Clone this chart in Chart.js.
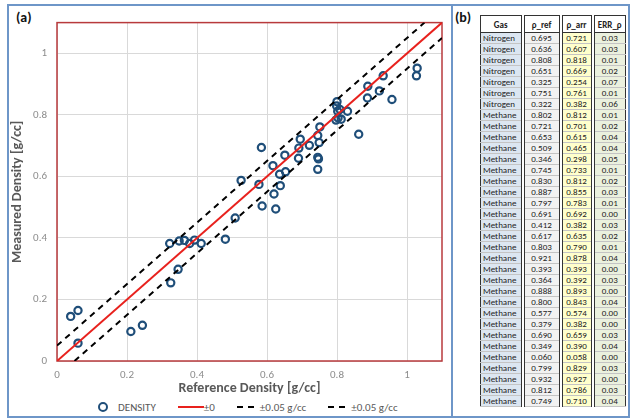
<!DOCTYPE html>
<html>
<head>
<meta charset="utf-8">
<script src="https://cdn.jsdelivr.net/npm/chart.js@4.4.1/dist/chart.umd.min.js"></script>
<style>
  body { margin: 0; width: 630px; height: 418px; background: #fff; overflow: hidden; position: relative;
         font-family: Carlito, Calibri, Lato, sans-serif; }
  .frame { position: absolute; box-sizing: border-box; border: 2px solid #6e96c8; }
  .tag { position: absolute; font-weight: bold; font-size: 14px; color: #111; }
  #chartBox { position: absolute; left: 9px; top: 6px; width: 441px; height: 391px; }
  #legend { position: absolute; left: 98px; top: 400px; height: 14px; display: flex; align-items: center;
            font-size: 11px; color: #595959; }
  #legend .item { display: flex; align-items: center; margin-right: 22px; }
  .ring { width: 6px; height: 6px; border: 2px solid #1f4e79; border-radius: 50%; margin-right: 10px; }
  .solid { width: 26px; border-top: 2px solid #e8211d; }
  .dash { width: 17px; height: 2px; margin-right: 6px;
          background: linear-gradient(to right, #000 0 6px, transparent 6px 11px, #000 11px 17px); }
  #tbl { position: absolute; left: 480px; top: 15px; width: 145px; border-collapse: collapse;
         table-layout: fixed; font-size: 9px; color: #222; border: 1px solid #333; }
  #tbl th { height: 16px; font-weight: bold; background: #fff; border-bottom: 1px solid #333; padding: 0; }
  #tbl td { height: 10px; line-height: 10px; padding: 0; text-align: center; border-bottom: 1px solid #c4c4c4;
            overflow: hidden; white-space: nowrap; }
  #tbl th, #tbl td { border-right: 4px double #333; }
  #tbl th:last-child, #tbl td:last-child { border-right: none; }
  #tbl td.g { text-align: left; padding-left: 2px; background: #dce6f1; }
  #tbl td.r { background: #f2f2f2; }
  #tbl td.a { background: #ffffcc; }
  #tbl td.e { background: #ebf1de; }
</style>
</head>
<body>
<div class="frame" style="left:7px; top:4px; width:446px; height:414px;"></div>
<div class="frame" style="left:451px; top:4px; width:179px; height:414px;"></div>
<div class="tag" style="left:16px; top:9px;">(a)</div>
<div class="tag" style="left:455px; top:9px;">(b)</div>

<div id="chartBox"><canvas id="densityChart"></canvas></div>

<div id="legend">
  <div class="item"><span class="ring"></span>DENSITY</div>
  <div class="item"><span class="solid"></span>±0</div>
  <div class="item"><span class="dash"></span>±0.05 g/cc</div>
  <div class="item"><span class="dash"></span>±0.05 g/cc</div>
</div>

<table id="tbl">
  <colgroup><col style="width:42px"><col style="width:38px"><col style="width:32px"><col style="width:33px"></colgroup>
  <thead><tr><th>Gas</th><th>ρ_ref</th><th>ρ_arr</th><th>ERR_ρ</th></tr></thead>
  <tbody id="tbody"></tbody>
</table>

<script>
// Table values (panel b)
const gases = ['Nitrogen', 'Nitrogen', 'Nitrogen', 'Nitrogen', 'Nitrogen', 'Nitrogen', 'Nitrogen',
    'Methane', 'Methane', 'Methane', 'Methane', 'Methane', 'Methane', 'Methane', 'Methane', 'Methane',
    'Methane', 'Methane', 'Methane', 'Methane', 'Methane', 'Methane', 'Methane', 'Methane', 'Methane',
    'Methane', 'Methane', 'Methane', 'Methane', 'Methane', 'Methane', 'Methane', 'Methane', 'Methane'];
const rhoRef = [0.695, 0.636, 0.808, 0.651, 0.325, 0.751, 0.322,
    0.802, 0.721, 0.653, 0.509, 0.346, 0.745, 0.830, 0.887, 0.797, 0.691, 0.412, 0.617, 0.803,
    0.921, 0.393, 0.364, 0.888, 0.800, 0.577, 0.379, 0.690, 0.349, 0.060, 0.799, 0.932, 0.812, 0.749];
const rhoArr = [0.721, 0.607, 0.818, 0.669, 0.254, 0.761, 0.382,
    0.812, 0.701, 0.615, 0.465, 0.298, 0.733, 0.812, 0.855, 0.783, 0.692, 0.382, 0.635, 0.790,
    0.878, 0.393, 0.392, 0.893, 0.843, 0.574, 0.382, 0.659, 0.390, 0.058, 0.829, 0.927, 0.786, 0.710];
const errRho = [0.03, 0.03, 0.01, 0.02, 0.07, 0.01, 0.06,
    0.01, 0.02, 0.04, 0.04, 0.05, 0.01, 0.02, 0.03, 0.01, 0.00, 0.03, 0.02, 0.01,
    0.04, 0.00, 0.03, 0.00, 0.04, 0.00, 0.00, 0.03, 0.04, 0.00, 0.03, 0.00, 0.03, 0.04];

// Other points in the scatter that are not listed in the table
const extraRef = [0.039, 0.060, 0.211, 0.244, 0.481, 0.526, 0.584, 0.586, 0.620,
    0.625, 0.638, 0.745, 0.747, 0.745, 0.862, 0.957, 1.029, 1.027];
const extraArr = [0.145, 0.164, 0.096, 0.116, 0.396, 0.587, 0.694, 0.504, 0.543,
    0.494, 0.570, 0.662, 0.657, 0.623, 0.737, 0.850, 0.952, 0.927];

// Reference lines
const zeroX = [0, 1.1], zeroY = [0, 1.1];
const upperX = [0, 1.05], upperY = [0.05, 1.1];
const lowerX = [0.05, 1.1], lowerY = [0, 1.05];

const toPoints = (xs, ys) => xs.map((x, i) => ({ x: x, y: ys[i] }));

// fill the table
const tbody = document.getElementById('tbody');
gases.forEach((g, i) => {
    const tr = document.createElement('tr');
    tr.innerHTML = '<td class="g">' + g + '</td><td class="r">' + rhoRef[i].toFixed(3) +
        '</td><td class="a">' + rhoArr[i].toFixed(3) + '</td><td class="e">' + errRho[i].toFixed(2) + '</td>';
    tbody.appendChild(tr);
});

// red frame round the plot area
const plotFrame = {
    id: 'plotFrame',
    beforeDatasetsDraw(chart) {
        const a = chart.chartArea, ctx = chart.ctx;
        ctx.save();
        ctx.strokeStyle = '#b83a3c';
        ctx.lineWidth = 1.5;
        ctx.strokeRect(a.left, a.top, a.right - a.left, a.bottom - a.top);
        ctx.restore();
    }
};

const fontFamily = 'Carlito, Calibri, Lato, sans-serif';
const tickLabel = v => String(+v.toFixed(1));

const config = {
    type: 'scatter',
    data: {
        datasets: [
            {
                label: 'DENSITY',
                data: toPoints(rhoRef.concat(extraRef), rhoArr.concat(extraArr)),
                pointStyle: 'circle',
                pointRadius: 3.6,
                pointBorderWidth: 2.2,
                borderColor: '#1f4e79',
                backgroundColor: 'rgba(255,255,255,0)',
                order: 5
            },
            {
                label: '±0',
                data: toPoints(zeroX, zeroY),
                showLine: true,
                borderColor: '#e8211d',
                borderWidth: 2,
                pointRadius: 0,
                order: 1
            },
            {
                label: '±0.05 g/cc',
                data: toPoints(upperX, upperY),
                showLine: true,
                borderColor: '#000',
                borderWidth: 2,
                borderDash: [6, 5],
                pointRadius: 0,
                order: 2
            },
            {
                label: '±0.05 g/cc',
                data: toPoints(lowerX, lowerY),
                showLine: true,
                borderColor: '#000',
                borderWidth: 2,
                borderDash: [6, 5],
                pointRadius: 0,
                order: 3
            }
        ]
    },
    options: {
        responsive: true,
        maintainAspectRatio: false,
        animation: false,
        layout: { padding: { top: 9, right: 8, left: 0, bottom: 0 } },
        plugins: {
            legend: { display: false },
            tooltip: { enabled: false }
        },
        scales: {
            x: {
                type: 'linear',
                min: 0,
                max: 1.1,
                afterFit: s => { s.height = 36; },
                grid: { color: '#d9d9d9', drawTicks: false },
                border: { display: false },
                ticks: { stepSize: 0.2, includeBounds: false, padding: 8, color: '#8c8c8c',
                         font: { family: fontFamily, size: 11 }, callback: tickLabel },
                title: { display: true, text: 'Reference Density [g/cc]', color: '#595959',
                         padding: 0, font: { family: fontFamily, size: 14, weight: 'bold' } }
            },
            y: {
                type: 'linear',
                min: 0,
                max: 1.1,
                afterFit: s => { s.width = 48; },
                grid: { color: '#d9d9d9', drawTicks: false },
                border: { display: false },
                ticks: { stepSize: 0.2, includeBounds: false, padding: 10, color: '#8c8c8c',
                         font: { family: fontFamily, size: 11 }, callback: tickLabel },
                title: { display: true, text: 'Measured Density [g/cc]', color: '#595959',
                         padding: 0, font: { family: fontFamily, size: 14, weight: 'bold' } }
            }
        }
    },
    plugins: [plotFrame]
};

window.onload = function() {
    const ctx = document.getElementById('densityChart').getContext('2d');
    new Chart(ctx, config);
};
</script>
</body>
</html>
